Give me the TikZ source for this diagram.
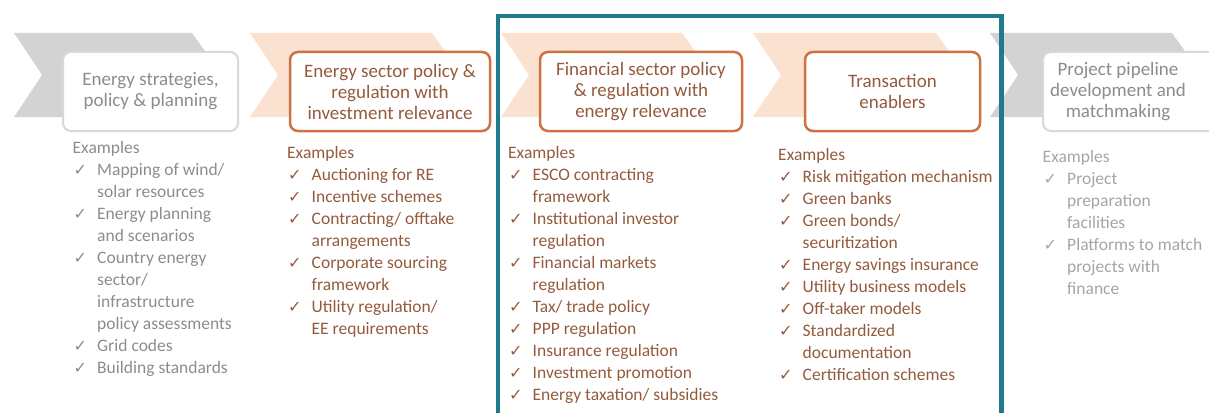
\documentclass[tikz,border=0pt]{standalone}
\usepackage{fontspec}
\setmainfont{Carlito}
\newfontfamily\symfont{DejaVu Sans}

\definecolor{chevgray}{HTML}{D3D3D3}
\definecolor{chevpeach}{HTML}{FBE1CF}
\definecolor{boxgray}{HTML}{D9D9D9}
\definecolor{boxorange}{HTML}{CC7441}
\definecolor{txtgray}{HTML}{8C8C8C}
\definecolor{txtlight}{HTML}{A5A5A5}
\definecolor{txtbrown}{HTML}{945A3C}
\definecolor{frameteal}{HTML}{1F7B8B}

% check mark and hanging indent for the example lists
\newcommand\tick{\makebox[24.5pt][l]{\hspace{1pt}{\symfont\fontsize{16}{16}\selectfont ✓}}}
\newcommand\cont{\hspace*{24.5pt}}

\begin{document}
\begin{tikzpicture}[x=1pt,y=-1pt,
	graybox/.style={draw=boxgray,line width=2pt,fill=white,rounded corners=8pt,minimum height=79pt,align=center,text=txtgray,font=\fontsize{19}{21}\selectfont},
	orangebox/.style={draw=boxorange,line width=2.5pt,fill=white,rounded corners=8pt,minimum height=79pt,align=center,text=txtbrown,font=\fontsize{19}{21}\selectfont},
	examples/.style={anchor=north west,inner sep=0pt,align=left,font=\fontsize{17.5}{22}\selectfont}]

		\useasboundingbox (0,0) rectangle (1209,412);

		%chevrons
		\fill[chevgray] (14,33) -- (192,33) -- (222,75) -- (192,117) -- (14,117) -- (42,75) -- cycle;
		\fill[chevpeach] (250,33) -- (432,33) -- (462,75) -- (432,117) -- (250,117) -- (278,75) -- cycle;
		\fill[chevpeach] (501,33) -- (682,33) -- (712,75) -- (682,117) -- (501,117) -- (529,75) -- cycle;
		\fill[chevpeach] (753,33) -- (936,33) -- (966,75) -- (936,117) -- (753,117) -- (781,75) -- cycle;
		\fill[chevgray] (990,33) -- (1172,33) -- (1202,75) -- (1172,117) -- (990,117) -- (1018,75) -- cycle;

		%stage boxes
		\node[graybox,minimum width=175pt] (strat) at (150.5,91.5) {Energy strategies,\\policy \& planning};
		\node[orangebox,minimum width=200pt] (enpol) at (390,91.5) {Energy sector policy \&\\regulation with\\investment relevance};
		\node[orangebox,minimum width=202pt] (finpol) at (641,91.5) {Financial sector policy\\\& regulation with\\energy relevance};
		\node[orangebox,minimum width=175pt] (trans) at (892.5,91.5) {Transaction\\enablers};
		\node[graybox,minimum width=190pt] (pipe) at (1138,91.5) {};
		\node[align=center,text=txtgray,font=\fontsize{19}{21}\selectfont] (pipetxt) at (1118,91.5) {Project pipeline\\development and\\matchmaking};

		%example lists
		\node[examples,text=txtgray] (ex1) at (72.5,141) {Examples\\
			\tick Mapping of wind/\\
			\cont solar resources\\
			\tick Energy planning\\
			\cont and scenarios\\
			\tick Country energy\\
			\cont sector/\\
			\cont infrastructure\\
			\cont policy assessments\\
			\tick Grid codes\\
			\tick Building standards};
		\node[examples,text=txtbrown] (ex2) at (287,146) {Examples\\
			\tick Auctioning for RE\\
			\tick Incentive schemes\\
			\tick Contracting/ offtake\\
			\cont arrangements\\
			\tick Corporate sourcing\\
			\cont framework\\
			\tick Utility regulation/\\
			\cont EE requirements};
		\node[examples,text=txtbrown] (ex3) at (508,146) {Examples\\
			\tick ESCO contracting\\
			\cont framework\\
			\tick Institutional investor\\
			\cont regulation\\
			\tick Financial markets\\
			\cont regulation\\
			\tick Tax/ trade policy\\
			\tick PPP regulation\\
			\tick Insurance regulation\\
			\tick Investment promotion\\
			\tick Energy taxation/ subsidies};
		\node[examples,text=txtbrown] (ex4) at (778,148) {Examples\\
			\tick Risk mitigation mechanism\\
			\tick Green banks\\
			\tick Green bonds/\\
			\cont securitization\\
			\tick Energy savings insurance\\
			\tick Utility business models\\
			\tick Off-taker models\\
			\tick Standardized\\
			\cont documentation\\
			\tick Certification schemes};
		\node[examples,text=txtlight] (ex5) at (1042.5,150) {Examples\\
			\tick Project\\
			\cont preparation\\
			\cont facilities\\
			\tick Platforms to match\\
			\cont projects with\\
			\cont finance};

		%highlight frame
		\draw[frameteal,line width=4.5pt] (498,420) -- (498,15.8) -- (1001.5,15.8) -- (1001.5,420);
		\end{tikzpicture}
\end{document}
